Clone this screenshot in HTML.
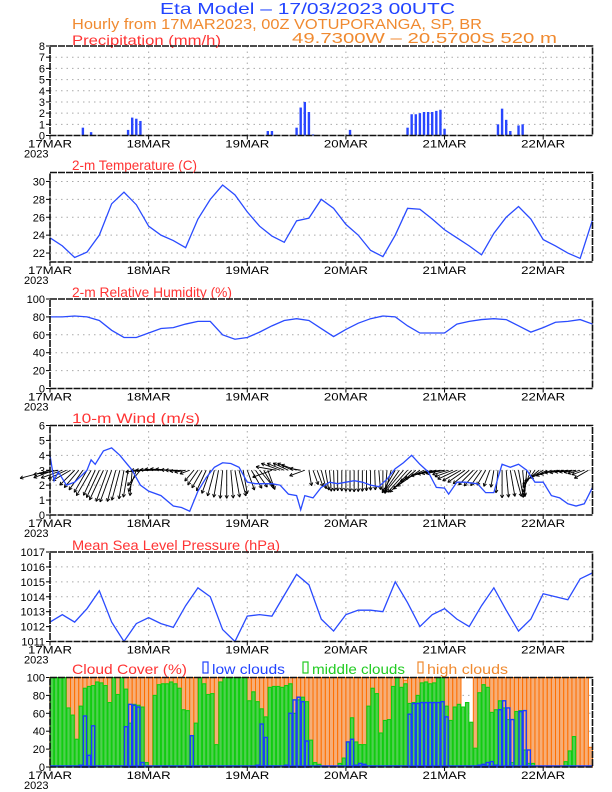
<!DOCTYPE html>
<html><head><meta charset="utf-8">
<style>
html,body{margin:0;padding:0;background:#fff;}
svg{display:block;font-family:"Liberation Sans",sans-serif;}
</style></head>
<body>
<svg id="chart" width="612" height="792" viewBox="0 0 612 792" xmlns="http://www.w3.org/2000/svg">
<text x="160" y="14" font-size="16" fill="#2244ff" textLength="295" lengthAdjust="spacingAndGlyphs">Eta Model – 17/03/2023 00UTC</text>
<text x="72" y="29" font-size="15" fill="#f08a30" textLength="410" lengthAdjust="spacingAndGlyphs">Hourly from 17MAR2023, 00Z  VOTUPORANGA, SP, BR</text>
<text x="72" y="45" font-size="14" fill="#ff3333" textLength="149" lengthAdjust="spacingAndGlyphs">Precipitation (mm/h)</text>
<text x="292" y="43" font-size="15" fill="#f08a30" textLength="265" lengthAdjust="spacingAndGlyphs">49.7300W – 20.5700S    520  m</text>
<text x="72" y="170" font-size="14" fill="#ff3333" textLength="125" lengthAdjust="spacingAndGlyphs">2-m Temperature (C)</text>
<text x="72" y="297" font-size="14" fill="#ff3333" textLength="160" lengthAdjust="spacingAndGlyphs">2-m Relative Humidity (%)</text>
<text x="72" y="423" font-size="14" fill="#ff3333" textLength="128" lengthAdjust="spacingAndGlyphs">10-m Wind (m/s)</text>
<text x="72" y="550" font-size="14" fill="#ff3333" textLength="208" lengthAdjust="spacingAndGlyphs">Mean Sea Level Pressure (hPa)</text>
<text x="72" y="674" font-size="14" fill="#ff3333" textLength="115" lengthAdjust="spacingAndGlyphs">Cloud Cover (%)</text>
<rect x="203" y="662" width="5" height="11" fill="none" stroke="#2244ff" stroke-width="1.2"/>
<text x="212" y="674" font-size="14" fill="#2244ff" textLength="73" lengthAdjust="spacingAndGlyphs">low clouds</text>
<rect x="303" y="662" width="5" height="11" fill="none" stroke="#22cc22" stroke-width="1.2"/>
<text x="312" y="674" font-size="14" fill="#22cc22" textLength="93" lengthAdjust="spacingAndGlyphs">middle clouds</text>
<rect x="418" y="662" width="5" height="11" fill="none" stroke="#f08a30" stroke-width="1.2"/>
<text x="427" y="674" font-size="14" fill="#f08a30" textLength="81" lengthAdjust="spacingAndGlyphs">high clouds</text>
</svg>
<script>
// ---- data ----
const dayLabels = ["17MAR","18MAR","19MAR","20MAR","21MAR","22MAR"];
const precipHours = [8,10,19,20,21,22,53,54,60,61,62,63,64,73,87,88,89,90,91,92,93,94,95,96,109,110,111,112,114,115,116];
const precipValues = [0.7,0.3,0.5,1.6,1.5,1.3,0.4,0.4,0.7,2.5,3.0,2.1,0.1,0.5,0.7,1.9,1.9,2.0,2.1,2.1,2.1,2.2,2.3,0.6,1.0,2.4,1.4,0.4,0.9,1.0,0.05];
const seriesHours3 = [0,3,6,9,12,15,18,21,24,27,30,33,36,39,42,45,48,51,54,57,60,63,66,69,72,75,78,81,84,87,90,93,96,99,102,105,108,111,114,117,120,123,126,129,132];
const temperature = [23.7,22.8,21.5,22.1,24.0,27.5,28.8,27.4,25.0,24.0,23.4,22.6,25.8,28.0,29.6,28.5,26.6,25.0,23.9,23.2,25.6,25.9,28.0,27.0,25.2,24.0,22.3,21.6,24.0,27.0,26.9,25.8,24.6,23.7,22.8,21.8,24.2,26.0,27.2,25.8,23.5,22.8,22.0,21.4,25.7];
const humidity = [80,80,81,80,76,65,57,57,62,67,68,72,75,75,60,55,57,63,70,76,78,76,67,58,66,73,78,81,80,70,62,62,62,72,75,77,78,77,70,63,68,74,75,77,72];
const pressure = [1012.3,1012.8,1012.3,1013.2,1014.4,1012.3,1011.0,1012.2,1012.6,1012.2,1011.95,1013.4,1014.6,1014.0,1011.8,1011.0,1012.7,1012.8,1012.7,1014.1,1015.5,1014.8,1012.5,1011.7,1012.8,1013.1,1013.1,1013.0,1015.0,1013.6,1012.0,1012.8,1013.2,1012.5,1012.0,1013.4,1014.6,1013.1,1011.7,1012.5,1014.2,1014.0,1013.8,1015.2,1015.6];
const windHours = [0,1,2,4,6,9,10,11,13,15,17,20,22,24,27,30,32,34,36,38,40,42,44,46,48,50,52,54,56,58,60,61,62,64,66,68,70,72,74,76,78,80,82,84,86,88,90,92,94,96,97,99,101,104,106,108,109,110,112,114,116,118,120,122,124,126,128,130,132];
const windSpeed = [4.0,2.3,2.9,2.0,2.2,3.0,3.7,3.4,4.3,4.5,4.0,3.0,2.0,1.6,1.3,0.6,0.5,0.25,1.6,2.5,3.2,3.5,3.45,3.2,2.2,2.1,2.1,2.1,2.0,1.4,1.3,0.35,1.3,1.15,1.85,2.2,2.1,2.2,2.3,2.2,2.0,1.9,2.4,3.1,3.5,4.0,3.4,2.9,1.85,1.8,1.4,2.2,2.2,2.1,1.5,1.5,2.5,3.4,3.2,3.4,3.0,2.2,2.2,1.3,1.15,0.75,0.6,0.75,1.85];
const windDir = [195,200,190,200,205,210,
225,230,235,240,240,245,245,245,250,250,255,
255,260,260,265,250,230,
185,180,180,178,176,175,175,178,180,185,190,200,
230,235,240,245,250,255,260,265,270,275,280,285,280,
290,300,305,310,300,290,200,170,
160,158,155,155,160,170,200,280,290,
290,285,280,275,272,270,270,270,270,270,270,270,270,270,272,275,270,265,255,
240,235,230,228,225,220,215,
205,200,195,192,190,190,195,200,205,210,
215,220,225,230,235,240,250,260,
265,270,275,280,285,280,275,265,250,235,
220,210,205,200,195,190,190,188,188,190,195,200,210];
const cloudLow = [0,0,0,0,0,0,0,2, 57,13,46,0,0,0,0,0, 0,0,45,70,69,67,5,0, 0,0,0,0,0,0,0,0, 0,0,35,0,0,0,0,0, 0,0,0,0,0,0,0,0,
0,0,2,48,33,0,1,0, 0,2,60,75,78,73,29,0, 0,0,0,0,0,0,0,0, 28,31,2,4,3,0,1,0, 0,0,0,0,1,0,0,59, 71,71,72,72,72,72,72,73,
56,0,0,0,0,0,0,1, 2,3,5,6,2,64,74,66, 53,0,62,63,19,0,0,0, 0,0,0,0,0,0,0,0, 0,0,0,0];
const cloudMid = [100,100,100,100, 66,58,31,68, 88,90,91,95,94,91,72,100, 81,100,87,49,70,69,67,5, 0,80,92,93,93,95,93,88, 64,63,35,49,100,93,81,82, 25,95,100,100,100,100,100,100,
74,84,73,65,56,89,90,90, 89,91,93,60,75,78,73,30, 5,3,0,0,0,0,4,10, 28,55,28,25,25,68,88,82, 38,52,53,90,100,89,93,71, 72,80,94,95,93,94,100,100,
68,52,67,70,67,72,50,21, 83,92,89,61,64,74,66,53, 5,62,63,19,4,4,0,0, 0,0,0,0,0,6,18,34, 0,0,0,0];
const cloudHigh = [100,100,100,100,100,100,100,100,100,100,100,100,100,100,100,100,100,100,100,100,100,100,100,100,
100,100,100,100,100,100,100,100,100,100,100,100,100,100,100,100,100,100,100,100,100,100,100,100,
100,100,100,100,100,100,100,100,100,100,100,100,100,100,100,100,100,100,100,100,100,100,100,100,
100,100,100,100,100,100,100,100,100,100,100,100,100,100,97,100,100,100,100,100,100,100,100,100,
100,100,100,100,0,0,0,100,100,100,100,100,100,100,100,100,100,100,100,100,100,100,100,100,
100,100,100,100,100,100,100,100,100,100,100,22];

// ---- layout ----
const NS = "http://www.w3.org/2000/svg";
const svg = document.getElementById("chart");
const X0 = 50, X1 = 592.5, HMAX = 132;
const xs = h => X0 + h * (X1 - X0) / HMAX;
function mk(tag, attrs, parent){ const e = document.createElementNS(NS, tag); for (const k in attrs) e.setAttribute(k, attrs[k]); (parent||svg).appendChild(e); return e; }
const panels = [
  {key:"precipitation", top:46, min:0, max:8, ticks:[0,1,2,3,4,5,6,7,8]},
  {key:"temperature", top:172.5, min:21, max:31, ticks:[22,24,26,28,30]},
  {key:"humidity", top:299, min:0, max:100, ticks:[0,20,40,60,80,100]},
  {key:"wind", top:425.5, min:0, max:6, ticks:[0,1,2,3,4,5,6]},
  {key:"pressure", top:552, min:1011, max:1017, ticks:[1011,1012,1013,1014,1015,1016,1017]},
  {key:"cloud", top:677.5, min:0, max:100, ticks:[0,20,40,60,80,100]}
];
const PH = 89.5;
panels.forEach(p => { p.bottom = p.top + PH; p.y = v => p.bottom - (v - p.min) / (p.max - p.min) * PH; });

function drawFrame(p){
  const g = mk("g", {});
  
  
  p.ticks.forEach(t => {
    if (t === p.min || t === p.max) return;
    const gl = mk("line", {x1:X0, x2:X1, y1:p.y(t), y2:p.y(t), stroke:"#aaa", "stroke-width":1, "stroke-dasharray":"1.5 4"}, g);
    
    
  });
  for (let d = 1; d <= 5; d++) {
    const vl = mk("line", {x1:xs(d*24), x2:xs(d*24), y1:p.top, y2:p.bottom, stroke:"#aaa", "stroke-width":1, "stroke-dasharray":"1.5 4"}, g);
    
    
  }
  p.ticks.forEach(t => {
    mk("line", {x1:X0-4, x2:X0, y1:p.y(t), y2:p.y(t), stroke:"#000", "stroke-width":1}, g);
    const tl = mk("text", {x:X0-5, y:p.y(t)+4, "font-size":11, "text-anchor":"end", fill:"#000"}, g);
    
    
    tl.textContent = t;
  });
  dayLabels.forEach((d, i) => {
    mk("line", {x1:xs(i*24), x2:xs(i*24), y1:p.bottom, y2:p.bottom+4, stroke:"#000", "stroke-width":1}, g);
    const xl = mk("text", {x:xs(i*24), y:p.bottom+12, "font-size":11, "text-anchor":"middle", fill:"#000", textLength:44, lengthAdjust:"spacingAndGlyphs"}, g);
    
    
    xl.textContent = d;
  });
  const yr = mk("text", {x:X0-26, y:p.bottom+22, "font-size":11, fill:"#000"}, g);
  
  
  yr.textContent = "2023";
}
function drawBorder(p){
  const b = mk("rect", {x:X0, y:p.top, width:X1-X0, height:PH, fill:"none", stroke:"#111", "stroke-width":1.6, "stroke-dasharray":"7 1"});
  
  
}
function drawLine(p, hours, vals, name){
  const d = hours.map((h, i) => (i ? "L" : "M") + xs(h).toFixed(2) + "," + p.y(vals[i]).toFixed(2)).join(" ");
  const ln = mk("path", {d:d, fill:"none", stroke:"#2a4bff", "stroke-width":1.3});
  
  
}

// cloud panel
const pc = panels[5];
drawFrame(pc);
const bw = (X1 - X0) / HMAX;
cloudHigh.forEach((v, h) => {
  if (v <= 0) return;
  const r = mk("rect", {x:xs(h), y:pc.y(v), width:bw, height:pc.bottom - pc.y(v), fill:"#f6ae78", stroke:"#ff6f00", "stroke-width":1});
  
  
});
cloudMid.forEach((v, h) => {
  if (v <= 0) return;
  const r = mk("rect", {x:xs(h)+0.4, y:pc.y(v), width:bw-0.8, height:pc.bottom - pc.y(v), fill:"#4fd04f", stroke:"#11cc11", "stroke-width":1.1});
  
  
});
cloudLow.forEach((v, h) => {
  if (v <= 0) return;
  const r = mk("rect", {x:xs(h)+0.5, y:pc.y(v), width:bw-1, height:pc.bottom - pc.y(v), fill:"none", stroke:"#1a3cff", "stroke-width":1.4});
  
  
});
const base = mk("line", {x1:X0, x2:X1, y1:pc.bottom-1, y2:pc.bottom-1, stroke:"#1a3cff", "stroke-width":1.5});


drawBorder(pc);

// precipitation
const pp = panels[0];
drawFrame(pp);
precipHours.forEach((h, i) => {
  const v = precipValues[i];
  const r = mk("rect", {x:xs(h)-1.2, y:pp.y(v), width:2.4, height:pp.bottom - pp.y(v), fill:"#2846ff"});
  
  
});
drawBorder(pp);

drawFrame(panels[1]); drawLine(panels[1], seriesHours3, temperature, "temperature-line"); drawBorder(panels[1]);
drawFrame(panels[2]); drawLine(panels[2], seriesHours3, humidity, "humidity-line"); drawBorder(panels[2]);
drawFrame(panels[4]); drawLine(panels[4], seriesHours3, pressure, "pressure-line"); drawBorder(panels[4]);

// wind
const pw = panels[3];
drawFrame(pw);
function speedAt(h){
  for (let i = 1; i < windHours.length; i++) {
    if (h <= windHours[i]) { const t = (h - windHours[i-1]) / (windHours[i] - windHours[i-1]); return windSpeed[i-1] + t * (windSpeed[i] - windSpeed[i-1]); }
  }
  return windSpeed[windSpeed.length-1];
}
windDir.forEach((a, h) => {
  const L = 9 + speedAt(h) * 5.5;
  const rad = a * Math.PI / 180;
  const x0 = xs(h), y0 = pw.y(3);
  const x1 = x0 + L * Math.cos(rad), y1 = y0 - L * Math.sin(rad);
  const g = mk("g", {stroke:"#000", "stroke-width":0.9});
  
  
  mk("line", {x1:x0, y1:y0, x2:x1, y2:y1}, g);
  [0.5, -0.5].forEach(da => {
    const hb = rad + Math.PI + da;
    mk("line", {x1:x1, y1:y1, x2:x1 + 3.5*Math.cos(hb), y2:y1 - 3.5*Math.sin(hb)}, g);
  });
});
drawLine(pw, windHours, windSpeed, "wind-speed-line");
drawBorder(pw);
</script>
</body></html>
